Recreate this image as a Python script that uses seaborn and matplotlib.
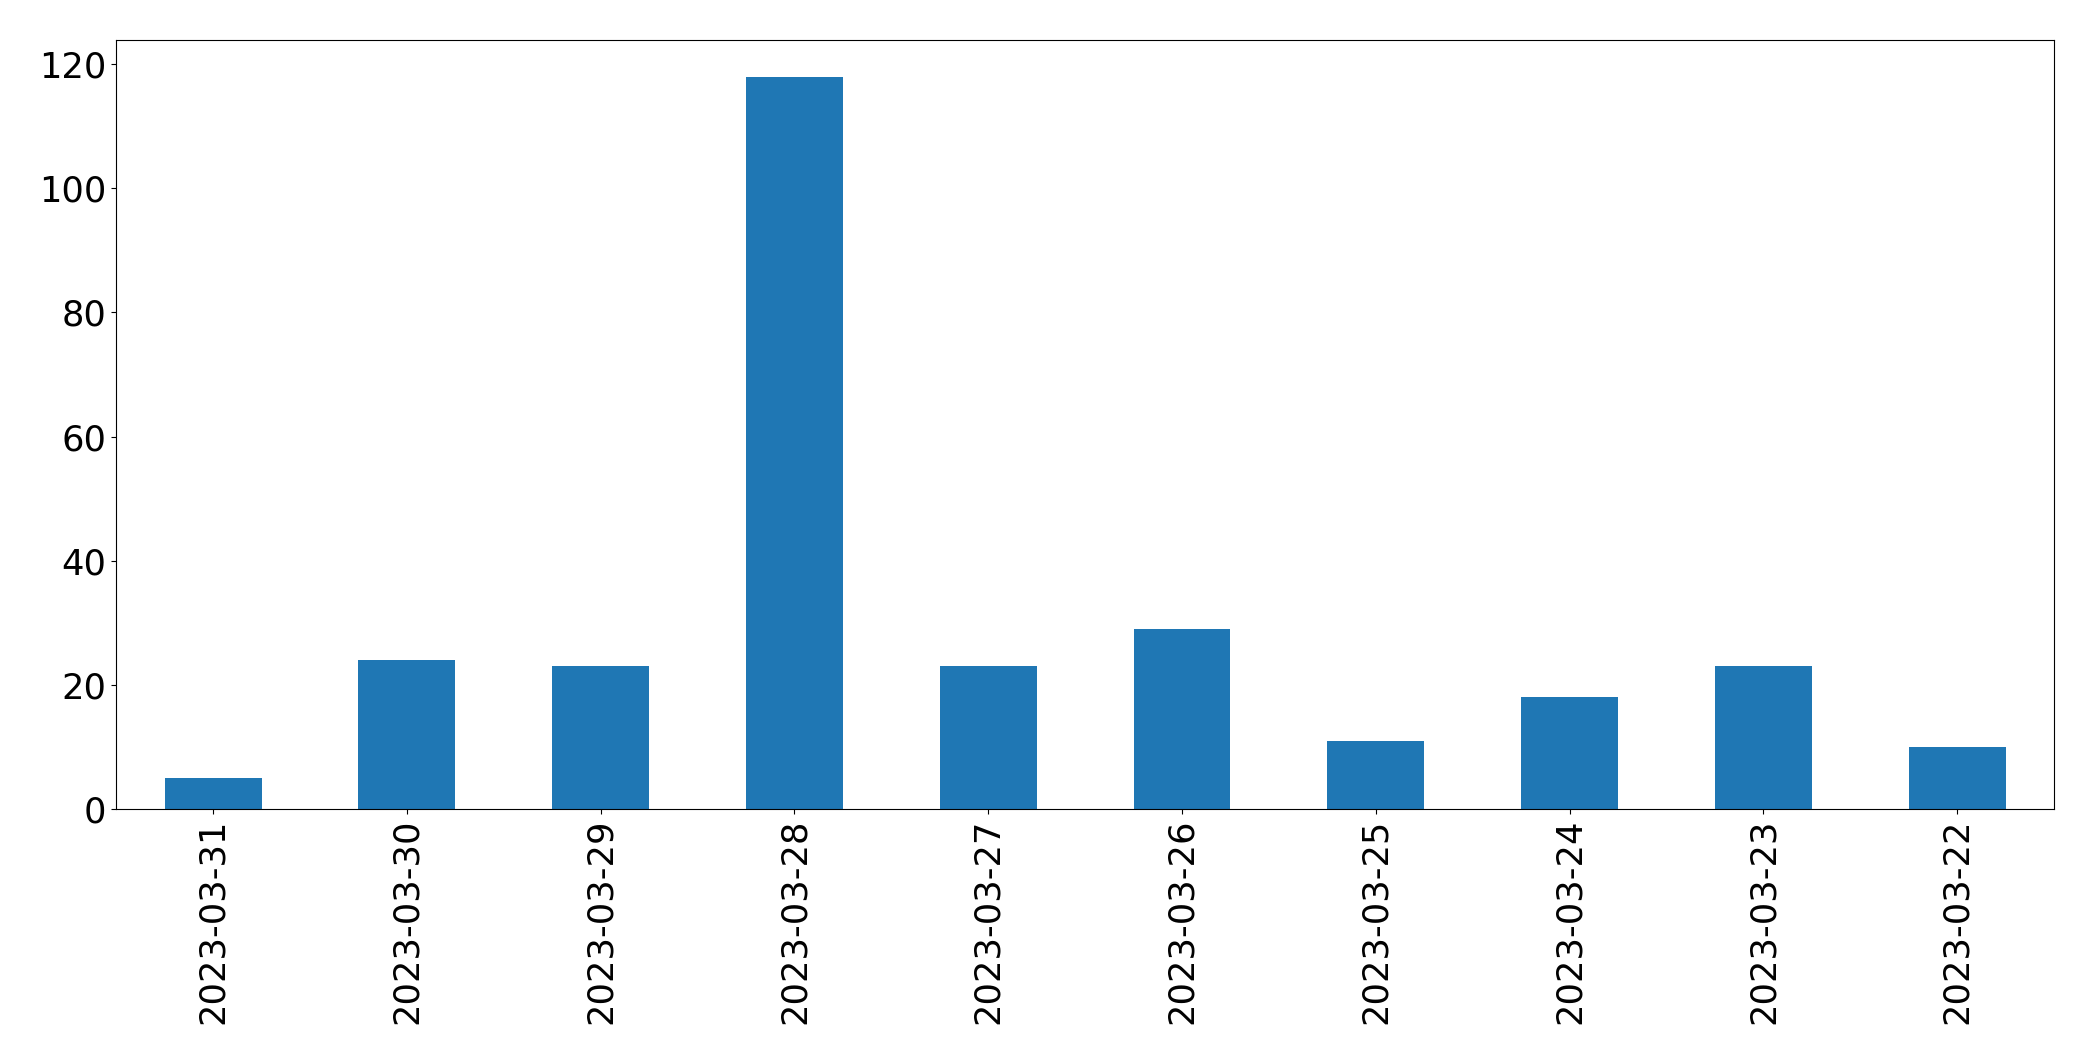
import pandas as pd
import numpy as np
import matplotlib
matplotlib.use("Agg")
import matplotlib.pyplot as plt
import seaborn as sns

# daily counts, newest first
dates = ['2023-03-31', '2023-03-30', '2023-03-29', '2023-03-28', '2023-03-27',
         '2023-03-26', '2023-03-25', '2023-03-24', '2023-03-23', '2023-03-22']
counts = [5, 24, 23, 118, 23, 29, 11, 18, 23, 10]

df = pd.DataFrame({'date': dates, 'count': counts})

fig, ax = plt.subplots(figsize=(20.93, 10.61), dpi=100)
fig.subplots_adjust(left=0.0555, right=0.9814, top=0.9623, bottom=0.2375)

sns.barplot(data=df, x='date', y='count', order=dates, color='#1f77b4',
            saturation=1, width=0.5, linewidth=0, ax=ax)

ax.set_xlim(-0.5, len(dates) - 0.5)
ax.set_ylim(0, max(counts) * 1.05)
ax.set_xlabel('')
ax.set_ylabel('')
for s in ax.spines.values():
    s.set_color('black')
ax.tick_params(axis='x', labelsize=25.4, rotation=90)
ax.tick_params(axis='y', labelsize=25.4)

plt.savefig('out.png', dpi=100)
